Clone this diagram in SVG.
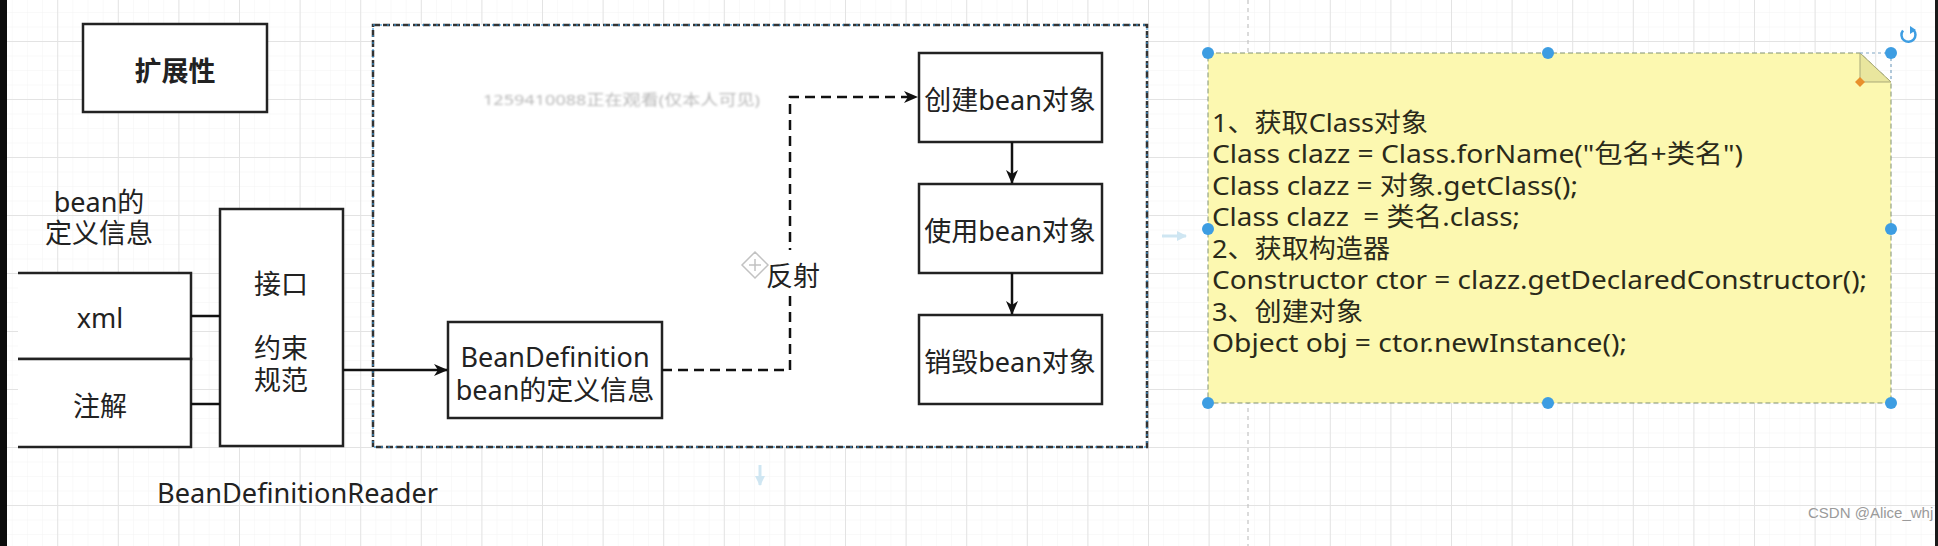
<svg xmlns="http://www.w3.org/2000/svg" width="1938" height="546" viewBox="0 0 1938 546">
<defs>
  <style>
    .t { font-family: "Noto Sans", "Noto Sans CJK SC", sans-serif; font-size: 27px; fill: #222; }
    .c { text-anchor: middle; }
    .note { font-family: "Noto Sans", "Noto Sans CJK SC", sans-serif; font-size: 26px; fill: #2a2a1a; }
    .box { fill: #fff; stroke: #222; stroke-width: 2.5; }
    .edge { fill: none; stroke: #111; stroke-width: 2.5; }
    .handle { fill: #3d9de2; }
  </style>
  <pattern id="minor" patternUnits="userSpaceOnUse" x="57.2" y="41" width="15.15" height="14.5">
    <path d="M0,0 H15.15 M0,0 V14.5" fill="none" stroke="#f4f4f4" stroke-width="1"/>
  </pattern>
  <pattern id="major" patternUnits="userSpaceOnUse" x="57.2" y="41" width="60.6" height="58">
    <path d="M0,0.5 H60.6 M0.5,0 V58" fill="none" stroke="#e3e3e3" stroke-width="1"/>
  </pattern>
  <marker id="arr" viewBox="0 0 14 12" refX="13" refY="6" markerWidth="14" markerHeight="12" markerUnits="userSpaceOnUse" orient="auto">
    <path d="M0,0 L14,6 L0,12 L4,6 z" fill="#111"/>
  </marker>
  <marker id="hov" viewBox="0 0 10 10" refX="9" refY="5" markerWidth="10" markerHeight="10" markerUnits="userSpaceOnUse" orient="auto">
    <path d="M0,0 L10,5 L0,10 z" fill="#cfe6f2"/>
  </marker>
  <filter id="blur" x="-5%" y="-50%" width="110%" height="200%">
    <feGaussianBlur stdDeviation="0.9"/>
  </filter>
</defs>

<!-- canvas -->
<rect x="0" y="0" width="1938" height="546" fill="#ffffff"/>
<rect x="0" y="0" width="1938" height="546" fill="url(#minor)"/>
<rect x="0" y="0" width="1938" height="546" fill="url(#major)"/>
<line x1="1248" y1="0" x2="1248" y2="546" stroke="#c4c4c4" stroke-width="1.2" stroke-dasharray="4 4"/>
<rect x="0" y="0" width="7" height="546" fill="#0c0c0c"/>
<rect x="1935" y="0" width="3" height="546" fill="#1a1a1a"/>

<!-- title node -->
<g id="node-title">
  <rect class="box" x="83" y="24" width="184" height="88"/>
  <text class="t c" x="175" y="81" font-weight="bold">扩展性</text>
</g>

<!-- label: bean的定义信息 -->
<g id="label-beaninfo">
  <text class="t c" x="99" y="212">bean的</text>
  <text class="t c" x="99" y="243">定义信息</text>
</g>

<!-- xml / 注解 -->
<g id="node-xml">
  <path d="M18,273 H191 V359 H18" fill="#fff" stroke="#222" stroke-width="2.5"/>
  <text class="t c" x="100" y="328">xml</text>
</g>
<g id="node-annotation">
  <path d="M18,359 H191 V447 H18" fill="#fff" stroke="#222" stroke-width="2.5"/>
  <text class="t c" x="100" y="416">注解</text>
</g>

<!-- interface node -->
<g id="node-interface">
  <rect class="box" x="220" y="209" width="123" height="237"/>
  <text class="t c" x="281" y="294">接口</text>
  <text class="t c" x="281" y="358">约束</text>
  <text class="t c" x="281" y="390">规范</text>
</g>

<g id="label-reader">
  <text class="t" x="157" y="503" textLength="281" lengthAdjust="spacingAndGlyphs">BeanDefinitionReader</text>
</g>

<!-- container -->
<g id="node-container">
  <rect x="373" y="25" width="774" height="422" fill="#fff" stroke="#333" stroke-width="2.5" stroke-dasharray="7 3"/>
  <rect x="373" y="25" width="774" height="422" fill="none" stroke="#3a95d4" stroke-width="1.5" stroke-dasharray="2 5" opacity="0.8"/>
  <text x="483" y="105" font-family="Noto Sans, Noto Sans CJK SC, sans-serif" font-size="15" fill="#b9b9b9" textLength="277" lengthAdjust="spacingAndGlyphs" filter="url(#blur)">1259410088正在观看(仅本人可见)</text>
</g>

<g id="node-beandefinition">
  <rect class="box" x="448" y="322" width="214" height="96"/>
  <text class="t c" x="555" y="367">BeanDefinition</text>
  <text class="t c" x="555" y="400">bean的定义信息</text>
</g>

<g id="node-create">
  <rect class="box" x="919" y="53" width="183" height="89"/>
  <text class="t c" x="1010" y="110">创建bean对象</text>
</g>
<g id="node-use">
  <rect class="box" x="919" y="184" width="183" height="89"/>
  <text class="t c" x="1010" y="241">使用bean对象</text>
</g>
<g id="node-destroy">
  <rect class="box" x="919" y="315" width="183" height="89"/>
  <text class="t c" x="1010" y="372">销毁bean对象</text>
</g>

<!-- connectors -->
<g id="connectors">
  <line class="edge" x1="191" y1="316" x2="220" y2="316"/>
  <line class="edge" x1="191" y1="404" x2="220" y2="404"/>
  <line class="edge" x1="343" y1="370" x2="447" y2="370" marker-end="url(#arr)"/>
  <path class="edge" d="M662,370 H790 V97 H917" stroke-dasharray="10 6" marker-end="url(#arr)"/>
  <line class="edge" x1="1012" y1="142" x2="1012" y2="183" marker-end="url(#arr)"/>
  <line class="edge" x1="1012" y1="273" x2="1012" y2="314" marker-end="url(#arr)"/>
  <!-- edge label -->
  <rect x="767" y="250" width="52" height="42" fill="#fff"/>
  <g id="move-icon" fill="none" stroke="#c2c2c2" stroke-width="1.5">
    <path d="M755,252 L768,265 L755,278 L742,265 Z"/>
    <path d="M749,265 H761 M755,259 V271"/>
  </g>
  <text class="t c" x="793" y="286">反射</text>
  <!-- faint hover arrows -->
  <line x1="760" y1="465" x2="760" y2="485" stroke="#cfe6f2" stroke-width="3" marker-end="url(#hov)"/>
  <line x1="1162" y1="236" x2="1186" y2="236" stroke="#cfe6f2" stroke-width="3" marker-end="url(#hov)"/>
</g>

<!-- note -->
<g id="node-note">
  <path d="M1208,53 H1860 L1891,82 V403 H1208 Z" fill="#fcf8b0" stroke="#7e9072" stroke-width="1" stroke-dasharray="5 3"/>
  <path d="M1860,53 V82 H1891 Z" fill="#e9e69e" stroke="#a9a978" stroke-width="1"/>
  <path d="M1860,53 H1891 V82" fill="none" stroke="#7fa6c4" stroke-width="1.2" stroke-dasharray="3 3"/>
  <text class="note" x="1212" y="131.5" textLength="216" lengthAdjust="spacingAndGlyphs">1、获取Class对象</text>
  <text class="note" x="1212" y="163" textLength="531" lengthAdjust="spacingAndGlyphs">Class clazz = Class.forName("包名+类名")</text>
  <text class="note" x="1212" y="194.5" textLength="366" lengthAdjust="spacingAndGlyphs">Class clazz = 对象.getClass();</text>
  <text class="note" x="1212" y="226" textLength="308" lengthAdjust="spacingAndGlyphs" xml:space="preserve">Class clazz  = 类名.class;</text>
  <text class="note" x="1212" y="257.5" textLength="178" lengthAdjust="spacingAndGlyphs">2、获取构造器</text>
  <text class="note" x="1212" y="289" textLength="655" lengthAdjust="spacingAndGlyphs">Constructor ctor = clazz.getDeclaredConstructor();</text>
  <text class="note" x="1212" y="320.5" textLength="151" lengthAdjust="spacingAndGlyphs">3、创建对象</text>
  <text class="note" x="1212" y="352" textLength="415" lengthAdjust="spacingAndGlyphs">Object obj = ctor.newInstance();</text>
  <!-- selection handles -->
  <circle class="handle" cx="1208" cy="53" r="6"/>
  <circle class="handle" cx="1548" cy="53" r="6"/>
  <circle class="handle" cx="1891" cy="53" r="6"/>
  <circle class="handle" cx="1208" cy="229" r="6"/>
  <circle class="handle" cx="1891" cy="229" r="6"/>
  <circle class="handle" cx="1208" cy="403" r="6"/>
  <circle class="handle" cx="1548" cy="403" r="6"/>
  <circle class="handle" cx="1891" cy="403" r="6"/>
  <path d="M1860,77 L1865,82 L1860,87 L1855,82 Z" fill="#e8902c"/>
  <path d="M1913.5,30 A7,7 0 1 1 1903,30.5" fill="none" stroke="#3d9de2" stroke-width="2.5"/>
  <path d="M1910,26 L1916,30 L1910,34 Z" fill="#3d9de2"/>
</g>

<text x="1808" y="518" font-family="Liberation Sans, Arial, sans-serif" font-size="15" fill="#9a9a9a">CSDN @Alice_whj</text>
</svg>
